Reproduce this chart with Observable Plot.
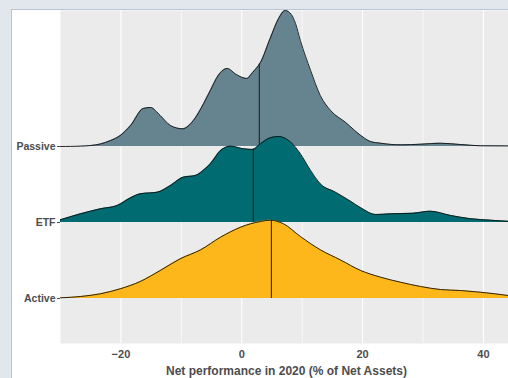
<!DOCTYPE html>
<html>
<head>
<meta charset="utf-8">
<script src="https://cdn.jsdelivr.net/npm/d3@7"></script>
<script src="https://cdn.jsdelivr.net/npm/@observablehq/plot@0.6"></script>
<style>
  html, body { margin: 0; padding: 0; width: 508px; height: 378px; overflow: hidden; background: #e1e7ec; }
  #card { position: absolute; left: 11px; top: 9px; width: 520px; height: 400px; background: #ffffff; border-left: 1px solid #b9c6cf; border-top: 1px solid #b9c6cf; }
  #chart { position: absolute; left: 12px; top: 10px; }
  #xtitle { position: absolute; left: 60px; width: 453px; top: 365px; text-align: center;
    font: bold 12px "Liberation Sans", Arial, sans-serif; color: #4d4d4d; line-height: 13px; white-space: nowrap; }
</style>
</head>
<body>
<div id="card"></div>
<div id="chart"></div>
<div id="xtitle">Net performance in 2020 (% of Net Assets)</div>
<script>
// Categories (bottom to top rows)
const categories = ["Active", "ETF", "Passive"];
const colors = ["#fdb71a", "#006b70", "#668490"];
const medians = [4.9, 1.9, 2.9];

// Density curves (x in %, density in row units)
const activeX = [-30.0, -26.7, -23.4, -20.1, -16.8, -13.5, -10.2, -6.8, -3.5, -0.2, 3.1, 4.7, 6.9, 9.7, 13.0, 16.3, 19.7, 23.0, 26.3, 29.6, 32.9, 36.2, 39.5, 44.15];
const activeD = [0.009, 0.026, 0.062, 0.128, 0.224, 0.368, 0.522, 0.641, 0.807, 0.938, 1.013, 1.030, 0.983, 0.816, 0.641, 0.509, 0.368, 0.280, 0.214, 0.158, 0.118, 0.105, 0.083, 0.039];

const etfX = [-30.0, -26.7, -23.4, -20.6, -18.4, -16.8, -14.0, -11.8, -9.7, -7.7, -6.0, -5.2, -3.5, -1.9, 0.3, 1.8, 3.1, 4.7, 6.1, 8.1, 9.7, 11.4, 13.0, 15.5, 18.0, 19.7, 22.2, 24.6, 28.3, 31.2, 34.6, 37.9, 41.2, 44.15];
const etfD = [0.036, 0.114, 0.180, 0.224, 0.325, 0.378, 0.399, 0.487, 0.596, 0.618, 0.711, 0.772, 0.947, 1.004, 0.970, 0.961, 1.036, 1.114, 1.132, 1.057, 0.904, 0.684, 0.509, 0.399, 0.280, 0.193, 0.105, 0.114, 0.122, 0.149, 0.092, 0.049, 0.030, 0.015];

const passiveX = [-30.0, -28.3, -26.7, -25.0, -23.4, -21.7, -20.1, -18.4, -16.3, -15.1, -13.5, -11.8, -9.8, -8.0, -6.3, -5.2, -3.9, -2.4, -0.9, 0.8, 1.8, 3.1, 4.7, 6.1, 7.2, 8.2, 8.9, 9.7, 11.4, 13.0, 14.7, 17.2, 19.7, 21.3, 23.0, 26.3, 29.6, 32.9, 36.2, 39.5, 44.15];
const passiveD = [0.000, 0.001, 0.004, 0.013, 0.033, 0.079, 0.145, 0.276, 0.500, 0.513, 0.408, 0.276, 0.233, 0.342, 0.566, 0.737, 0.934, 1.026, 0.947, 0.895, 0.974, 1.105, 1.421, 1.684, 1.789, 1.737, 1.618, 1.395, 1.000, 0.671, 0.474, 0.316, 0.145, 0.066, 0.043, 0.022, 0.030, 0.043, 0.026, 0.009, 0.007];

const majorTicks = [-20, 0, 20, 40];
const minorTicks = [-10, 10, 30];

const seriesX = [activeX, etfX, passiveX];
const seriesD = [activeD, etfD, passiveD];

function interp(xs, ds, v) {
  for (let i = 1; i < xs.length; i++) {
    if (v <= xs[i]) {
      const t = (v - xs[i - 1]) / (xs[i] - xs[i - 1]);
      return ds[i - 1] + t * (ds[i] - ds[i - 1]);
    }
  }
  return ds[ds.length - 1];
}

const ridgeMarks = [];
// draw top row first so lower rows overlap it
for (let k = categories.length - 1; k >= 0; k--) {
  const row = k + 1;
  const pts = seriesX[k].map((x, i) => ({x, y1: row, y2: row + seriesD[k][i]}));
  ridgeMarks.push(Plot.areaY(pts, {x: "x", y1: "y1", y2: "y2", fill: colors[k], curve: "monotone-x"}));
  ridgeMarks.push(Plot.line(pts, {x: "x", y: "y2", stroke: "#111", strokeWidth: 0.9, curve: "monotone-x"}));
  const m = medians[k];
  ridgeMarks.push(Plot.ruleX([m], {x: d => d, y1: row, y2: row + interp(seriesX[k], seriesD[k], m), stroke: "#1a1a1a", strokeWidth: 1}));
}

const fmt = d => d < 0 ? "\u2212" + Math.abs(d) : String(d);

const chart = Plot.plot({
  width: 496,
  height: 368,
  marginLeft: 48,
  marginRight: 0,
  marginTop: 0,
  marginBottom: 35,
  style: {background: "transparent", fontFamily: "'Liberation Sans', Arial, sans-serif", fontSize: "11px", fontWeight: "bold", color: "#4d4d4d"},
  x: {domain: [-30, 44.15], ticks: majorTicks, tickSize: 0, tickPadding: 7, tickFormat: fmt, label: null},
  y: {domain: [0.408, 4.789], ticks: [1, 2, 3], tickSize: 3, tickPadding: 2, tickFormat: d => categories[d - 1], label: null},
  marks: [
    Plot.frame({fill: "#ebebeb", stroke: "none"}),
    Plot.ruleX(minorTicks, {stroke: "#ffffff", strokeWidth: 0.6}),
    Plot.ruleX(majorTicks, {stroke: "#ffffff", strokeWidth: 1.1}),
    ...ridgeMarks
  ]
});
document.getElementById("chart").appendChild(chart);
// slightly smaller category labels, as in the reference
chart.querySelectorAll("[aria-label='y-axis tick label'] text, g[aria-label='y-axis'] text").forEach(t => t.style.fontSize = "10.5px");
</script>
</body>
</html>
